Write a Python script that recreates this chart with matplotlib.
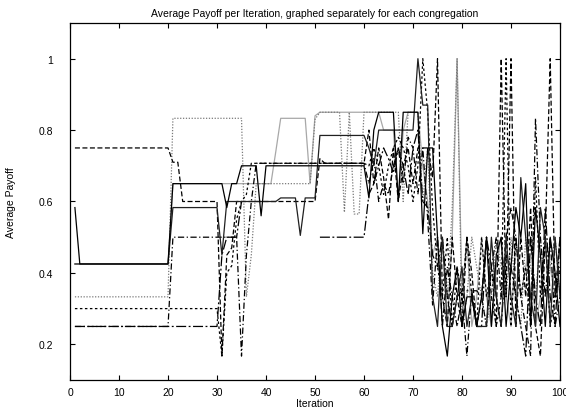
import numpy as np
import matplotlib
matplotlib.use("Agg")
import matplotlib.pyplot as plt

plt.rcParams['font.family'] = ['Liberation Sans', 'DejaVu Sans']

nan = np.nan
iterations = list(range(1, 101))

# Average payoff per iteration, one list per congregation
cong_1 = ([0.583] + [0.425] * 19 + [0.65] * 11 + [0.583, 0.65, 0.65] + [0.70] * 4 + [0.56] + [0.70] * 21 +
          [0.61, 0.80, 0.85, 0.85, 0.85, 0.85, 0.60, 0.85, 0.85, 0.85,
           0.85, 0.51, 0.75, 0.75, 0.50, 0.25, 0.167, 0.333, 0.417, 0.25,
           0.333, 0.333, 0.25, 0.333, 0.50, 0.25, 0.45, 0.50, 0.25, 0.417,
           0.583, 0.50, 0.65, 0.25, 0.583, 0.45, 0.25, 0.50, 0.40, 0.25])
cong_2 = ([0.425] * 20 + [0.583] * 10 + [0.45] + [0.60] * 11 + [0.61] * 4 + [0.505] + [0.61] * 3 + [0.785] * 10 +
          [0.75, 0.70, 0.80, 0.80, 0.80, 0.80, 0.80, 0.80, 0.80, 0.80,
           1.00, 0.87, 0.87, 0.333, 0.25, 0.50, 0.25, 0.25, 0.333, 0.417,
           0.25, 0.333, 0.25, 0.25, 0.25, 0.50, 0.333, 0.25, 0.50, 0.333,
           0.25, 0.667, 0.50, 0.333, 0.25, 0.583, 0.50, 0.25, 0.50, 0.333])
cong_3 = ([0.75] * 20 + [0.71] * 2 + [0.60] * 8 + [0.167, 0.45, 0.47] + [0.60] * 17 + [0.72] + [0.707] * 9 +
          [0.80, 0.65, 0.75, 0.667, 0.55, 0.75, 0.60, 0.70, 0.75, 0.65,
           0.75, 0.75, 0.75, 0.667, 1.00, 0.333, 0.25, 0.50, 0.333, 0.25,
           0.50, 0.40, 0.25, 0.333, 0.50, 0.333, 0.25, 1.00, 0.333, 1.00,
           0.25, 0.50, 0.333, 0.583, 0.25, 0.167, 0.50, 1.00, 0.333, 0.50])
cong_4 = ([0.333] * 20 + [0.833] * 15 + [0.333, 0.45] + [0.65] * 12 + [0.83] + [0.85] * 5 +
          [0.57, 0.85, 0.565, 0.565, 0.85] +
          [0.85, 0.85, 0.85, 0.85, 0.85, 0.85, 0.85, 0.60, 0.85, 0.85,
           0.85, 0.60, 0.75, 0.40, 0.333, 0.50, 0.333, 0.583, 1.00, 0.25,
           0.333, 0.50, 0.417, 0.333, 0.25, 0.333, 0.50, 0.417, 0.333, 0.50,
           0.333, 0.25, 0.50, 0.417, 0.333, 0.50, 0.333, 0.417, 0.50, 0.333])
cong_5 = ([0.30] * 30 + [0.167, 0.40, 0.42, 0.55, 0.60, 0.62] + [0.707] * 24 +
          [0.70, 0.75, 0.70, 0.62, 0.70, 0.75, 0.78, 0.75, 0.70, 0.60,
           0.70, 1.00, 0.85, 0.583, 0.417, 0.333, 0.50, 0.25, 0.417, 0.333,
           0.50, 0.333, 0.25, 0.50, 0.333, 0.417, 0.25, 0.333, 1.00, 0.25,
           0.50, 0.333, 0.417, 0.25, 0.667, 0.333, 0.50, 0.25, 0.333, 0.417])
cong_6 = ([0.25] * 20 + [0.50] * 14 + [0.167, 0.45, 0.60] + [0.707] * 23 +
          [0.65, 0.72, 0.60, 0.65, 0.62, 0.70, 0.75, 0.65, 0.78, 0.75,
           0.62, 0.75, 0.55, 0.31, 0.50, 0.25, 0.417, 0.333, 0.25, 0.333,
           0.167, 0.35, 0.35, 0.333, 0.25, 0.417, 0.50, 0.333, 0.50, 0.583,
           0.50, 0.333, 0.25, 0.167, 0.833, 0.50, 0.333, 0.50, 0.25, 0.333])
cong_7 = ([0.25] * 30 + [0.45, 0.50, 0.50, 0.50, 0.60] + [nan] * 15 + [0.50] * 10 +
          [0.62, 0.65, 0.70, 0.75, 0.72, 0.68, 0.75, 0.70, 0.62, 0.75,
           0.80, 0.60, 0.583, 0.45, 0.417, 0.50, 0.333, 0.25, 0.333, 0.35,
           0.35, 0.35, 0.25, 0.25, 0.50, 0.417, 0.333, 0.25, 0.45, 0.417,
           0.333, 0.25, 0.167, 0.50, 0.333, 0.25, 0.583, 0.333, 0.25, 0.50])
cong_8 = ([0.425] * 20 + [0.65] * 21 + [0.74] + [0.833] * 6 + [0.65, 0.84] + [0.85] * 10 +
          [0.85, 0.85, 0.85, 0.80, 0.80, 0.80, 0.60, 0.80, 0.85, 0.85,
           0.85, 0.70, 0.60, 0.45, 0.50, 0.333, 0.25, 0.50, 1.00, 0.333,
           0.50, 0.25, 0.333, 0.50, 0.333, 0.25, 0.417, 0.50, 0.333, 0.25,
           0.50, 0.333, 0.417, 0.50, 0.25, 0.333, 0.50, 0.417, 0.333, 0.50])

series = [cong_8, cong_4, cong_7, cong_6, cong_5, cong_3, cong_2, cong_1]
styles = [
    dict(color='#a8a8a8', linestyle='-'),
    dict(color='#7a7a7a', linestyle=(0, (1, 1.3))),
    dict(color='black', linestyle=(0, (8, 2, 1.5, 2))),
    dict(color='black', linestyle=(0, (5, 2, 1, 2))),
    dict(color='black', linestyle=(0, (2, 2))),
    dict(color='black', linestyle=(0, (4, 2))),
    dict(color='#202020', linestyle='-'),
    dict(color='black', linestyle='-'),
]

x_ticks = [0, 10, 20, 30, 40, 50, 60, 70, 80, 90, 100]
y_ticks = [0.2, 0.4, 0.6, 0.8, 1.0]
y_tick_labels = ['0.2', '0.4', '0.6', '0.8', '1']

fig = plt.figure(figsize=(5.66, 4.10), dpi=100)
ax = fig.add_axes([0.1237, 0.0707, 0.8657, 0.8708])

for vals, st in zip(series, styles):
    ax.plot(iterations, vals, linewidth=0.9, **st)

ax.set_xlim(0, 100)
ax.set_ylim(0.1, 1.1)
ax.set_xticks(x_ticks)
ax.set_yticks(y_ticks)
ax.set_yticklabels(y_tick_labels)
ax.tick_params(direction='in', top=True, right=True, length=3.6, width=0.8,
               labelsize=7.5, colors='black')
ax.tick_params(axis='y', pad=12)
ax.tick_params(axis='x', pad=5)
for sp in ax.spines.values():
    sp.set_linewidth(0.9)

ax.set_title('Average Payoff per Iteration, graphed separately for each congregation',
             fontsize=7.5, pad=5)
ax.set_xlabel('Iteration', fontsize=7.5)
ax.set_ylabel('Average Payoff', fontsize=7.5)
ax.xaxis.set_label_coords(0.5, -0.05)
ax.yaxis.set_label_coords(-0.11, 0.5)

fig.savefig('out.png', dpi=100)
